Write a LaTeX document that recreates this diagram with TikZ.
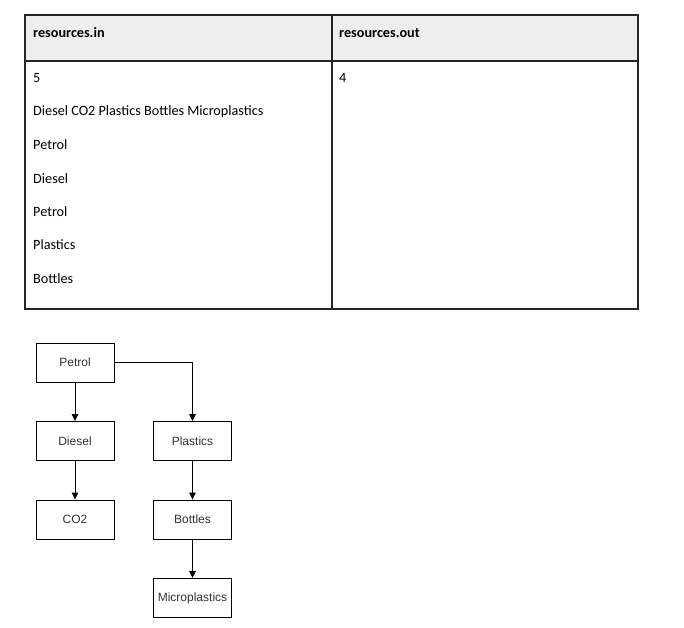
\documentclass[tikz,border=0pt]{standalone}
\usepackage{fontspec}
\setmainfont{Carlito}
\newfontfamily\boxfont{Liberation Sans}
\usetikzlibrary{arrows.meta}
\definecolor{hdrgray}{HTML}{EEEEEE}
\definecolor{boxtext}{HTML}{333333}
\tikzset{
  cell/.style={anchor=west, inner sep=0pt, font=\fontsize{14.2}{16}\selectfont},
  hcell/.style={cell, font=\fontsize{14.2}{16}\selectfont\bfseries},
  flowbox/.style={draw=black, line width=0.9pt, minimum width=78pt, minimum height=39pt, inner sep=0pt, font=\boxfont\fontsize{12}{14}\selectfont, text=boxtext},
  flowarrow/.style={draw=black, line width=0.9pt, -{Triangle[length=7pt,width=6.5pt]}},
  tline/.style={draw=black!85, line width=1.2pt}
}
\begin{document}
\begin{tikzpicture}[x=1pt,y=-1pt]
\useasboundingbox (0,0) rectangle (684,627);
% table
\fill[hdrgray] (25,15) rectangle (638,61);
\draw[tline] (25,15) rectangle (638,309);
\draw[tline] (25,61) -- (638,61);
\draw[tline] (332,15) -- (332,309);
\node[hcell] (h1) at (33,33) {resources.in};
\node[hcell] (h2) at (339,33) {resources.out};
\node[cell] (r1) at (33,78) {5};
\node[cell] (r2) at (33,112) {Diesel CO2 Plastics Bottles Microplastics};
\node[cell] (r3) at (33,145) {Petrol};
\node[cell] (r4) at (33,178.5) {Diesel};
\node[cell] (r5) at (33,212) {Petrol};
\node[cell] (r6) at (33,245) {Plastics};
\node[cell] (r7) at (33,278.5) {Bottles};
\node[cell] (o1) at (339,78) {4};
% flow
\node[flowbox] (petrol) at (75,362.5) {Petrol};
\node[flowbox] (diesel) at (75,441) {Diesel};
\node[flowbox] (co2) at (75,519.5) {CO2};
\node[flowbox] (plastics) at (192.5,441) {Plastics};
\node[flowbox] (bottles) at (192.5,519.5) {Bottles};
\node[flowbox] (micro) at (192.5,598) {Microplastics};
\draw[flowarrow] (petrol) -- (diesel);
\draw[flowarrow] (diesel) -- (co2);
\draw[flowarrow] (petrol.east) -| (plastics.north);
\draw[flowarrow] (plastics) -- (bottles);
\draw[flowarrow] (bottles) -- (micro);
\end{tikzpicture}
\end{document}
